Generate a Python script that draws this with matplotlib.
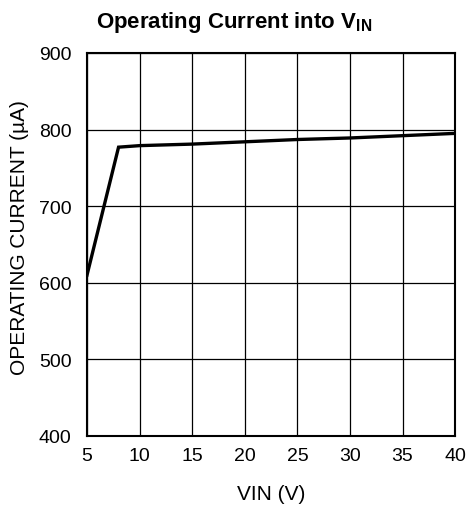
import matplotlib
matplotlib.use("Agg")
import matplotlib.pyplot as plt

# Operating current vs input voltage
vin = [5, 8, 10, 15, 20, 25, 30, 35, 40]
current = [610, 777, 779, 781, 784, 787, 789, 792, 795]

xticks = [5, 10, 15, 20, 25, 30, 35, 40]
yticks = [400, 500, 600, 700, 800, 900]

plt.rcParams["font.family"] = ["Liberation Sans", "DejaVu Sans"]
plt.rcParams["mathtext.fontset"] = "custom"
plt.rcParams["mathtext.rm"] = "Liberation Sans"
plt.rcParams["mathtext.bf"] = "Liberation Sans:bold"

fig = plt.figure(figsize=(4.69, 5.06), dpi=100)
ax = fig.add_axes([0.1855, 0.1364, 0.785, 0.757])

ax.plot(vin, current, color="black", linewidth=2.4, solid_joinstyle="miter")

ax.set_xlim(5, 40)
ax.set_ylim(400, 900)
ax.set_xticks(xticks)
ax.set_yticks(yticks)
ax.grid(True, color="black", linewidth=0.9)
ax.tick_params(length=0, labelsize=14)
ax.tick_params(axis="x", pad=8)
ax.tick_params(axis="y", pad=11)
for s in ax.spines.values():
    s.set_linewidth(1.5)

ax.set_xlabel("VIN (V)", fontsize=15, labelpad=14)
ax.set_ylabel("OPERATING CURRENT (\u00b5A)", fontsize=15, labelpad=7)
ax.yaxis.label.set_y(0.521)
fig.text(0.5, 0.945, r"Operating Current into V$_\mathbf{IN}$", fontsize=16,
         fontweight="bold", ha="center", va="baseline")

fig.savefig("out.png", dpi=100)
